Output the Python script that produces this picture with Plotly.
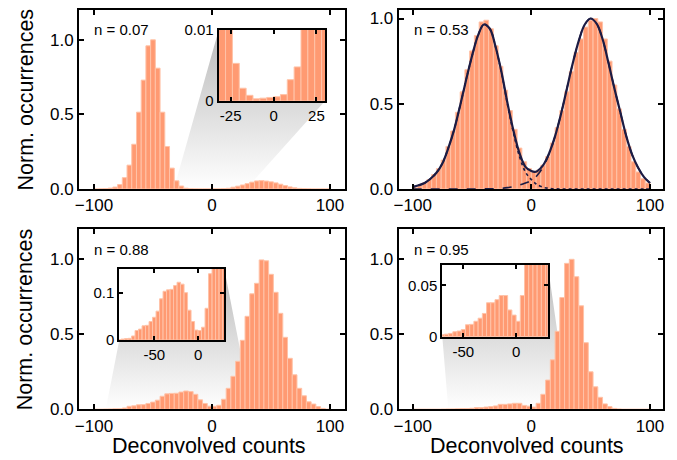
import plotly.graph_objects as go

# The page body adds an 8 px margin, so the figure is drawn 8 px smaller
# and all reference pixel positions are shifted by OFF.
OFF = 8
W, H = 677 - OFF, 460 - OFF

# ---------------- data ----------------
centers = [-98, -94, -90, -86, -82, -78, -74, -70, -66, -62, -58, -54, -50, -46, -42, -38,
           -34, -30, -26, -22, -18, -14, -10, -6, -2, 2, 6, 10, 14, 18, 22, 26, 30, 34,
           38, 42, 46, 50, 54, 58, 62, 66, 70, 74, 78, 82, 86, 90, 94, 98]

vals_n007 = [0.0, 0.001, 0.003, 0.006, 0.013, 0.03, 0.076, 0.16, 0.30, 0.515, 0.73, 0.96, 1.0,
             0.81, 0.515, 0.285, 0.14, 0.055, 0.02, 0.0053, 0.0018, 0.0008, 0.0003, 0.0004,
             0.0005, 0.0006, 0.0009, 0.003, 0.0048, 0.012, 0.019, 0.027, 0.036, 0.046, 0.054,
             0.056, 0.053, 0.048, 0.041, 0.032, 0.023, 0.014, 0.008, 0.004, 0.002, 0.001,
             0.0, 0.0, 0.0, 0.0]

vals_n053 = [0.01, 0.02, 0.035, 0.055, 0.085, 0.12, 0.17, 0.25, 0.34, 0.45, 0.57, 0.70, 0.81,
             0.90, 0.98, 0.99, 0.94, 0.84, 0.72, 0.58, 0.46, 0.35, 0.24, 0.16, 0.12, 0.10, 0.11,
             0.14, 0.19, 0.27, 0.36, 0.46, 0.57, 0.69, 0.80, 0.88, 0.95, 0.99, 1.0, 0.98, 0.88,
             0.75, 0.61, 0.47, 0.35, 0.25, 0.16, 0.10, 0.06, 0.035]

vals_n088 = [0.0, 0.0, 0.001, 0.002, 0.003, 0.0035, 0.0085, 0.02, 0.023, 0.03, 0.031, 0.039,
             0.048, 0.061, 0.087, 0.103, 0.106, 0.107, 0.115, 0.122, 0.118, 0.10, 0.063, 0.039,
             0.021, 0.02, 0.027, 0.067, 0.14, 0.22, 0.32, 0.46, 0.62, 0.77, 0.84, 0.996, 0.99,
             0.90, 0.78, 0.64, 0.48, 0.34, 0.23, 0.14, 0.09, 0.05, 0.035, 0.018, 0.006, 0.0]

vals_n095 = [0.0, 0.0, 0.0, 0.0, 0.0, 0.0, 0.001, 0.002, 0.0025, 0.0032, 0.0048, 0.0055, 0.007,
             0.0116, 0.012, 0.015, 0.018, 0.0226, 0.033, 0.033, 0.036, 0.040, 0.040, 0.026,
             0.021, 0.015, 0.040, 0.10, 0.195, 0.33, 0.52, 0.745, 0.973, 1.0, 0.884, 0.69,
             0.444, 0.25, 0.15, 0.08, 0.036, 0.018, 0.006, 0.002, 0.0, 0.0, 0.0, 0.0, 0.0, 0.0]

# fit curves for n = 0.53
fit_x = [-100, -95, -90, -85, -80, -75, -70, -65, -60, -55, -50, -45, -40, -35, -30, -25, -20,
         -15, -10, -5, 0, 3, 5, 10, 15, 20, 25, 30, 35, 40, 45, 50, 55, 60, 65, 70, 75, 80, 85,
         90, 95, 100]
fit_total = [0.012, 0.022, 0.035, 0.06, 0.095, 0.15, 0.24, 0.35, 0.49, 0.64, 0.78, 0.90, 0.965,
             0.94, 0.83, 0.68, 0.50, 0.34, 0.21, 0.13, 0.105, 0.10, 0.105, 0.14, 0.21, 0.31,
             0.44, 0.59, 0.74, 0.87, 0.965, 1.0, 0.97, 0.88, 0.74, 0.59, 0.45, 0.31, 0.20,
             0.125, 0.07, 0.035]
fit_left = [0.012, 0.022, 0.035, 0.06, 0.095, 0.15, 0.24, 0.35, 0.49, 0.64, 0.78, 0.90, 0.965,
            0.94, 0.83, 0.676, 0.492, 0.326, 0.19, 0.10, 0.055, 0.035, 0.025, 0.01, 0.004,
            0.001, 0.0, 0.0, 0.0, 0.0, 0.0, 0.0, 0.0, 0.0, 0.0, 0.0, 0.0, 0.0, 0.0, 0.0, 0.0, 0.0]
fit_right = [0.0, 0.0, 0.0, 0.0, 0.0, 0.0, 0.0, 0.0, 0.0, 0.0, 0.0, 0.0, 0.001, 0.001, 0.002,
             0.004, 0.008, 0.014, 0.023, 0.035, 0.05, 0.065, 0.08, 0.13, 0.206, 0.309, 0.44,
             0.59, 0.74, 0.87, 0.965, 1.0, 0.97, 0.88, 0.74, 0.59, 0.45, 0.31, 0.20, 0.125,
             0.07, 0.035]

labels = ["n = 0.07", "n = 0.53", "n = 0.88", "n = 0.95"]
main_xticks = [-100, 0, 100]
main_xtext = ["\u2212100", "0", "100"]
main_yticks = [0, 0.5, 1.0]
main_ytext = ["0.0", "0.5", "1.0"]

# ---------------- layout geometry (reference-screen pixels) ----------------
BAR = "#ff9a72"
BAR_EDGE = "#ffc3a8"
NAVY = "#1c1c44"

panels = [
    dict(x=(79, 345), y=(10, 189), xr=[-112.7, 112.7], yr=[0, 1.2], v=vals_n007),
    dict(x=(398.7, 662.7), y=(10, 189), xr=[-111.8, 110.7], yr=[0, 1.05], v=vals_n053),
    dict(x=(79, 345), y=(229.3, 409.3), xr=[-112.7, 112.7], yr=[0, 1.2], v=vals_n088),
    dict(x=(398.7, 662.7), y=(229.3, 409.3), xr=[-111.8, 110.7], yr=[0, 1.2], v=vals_n095),
]
insets = [
    dict(parent=0, x=(218.7, 325), y=(30, 101), xr=[-32, 30], yr=[0, 0.01],
         xt=[-25, 0, 25], xtt=["-25", "0", "25"], yt=[0, 0.01], ytt=["0", "0.01"], style="tl"),
    dict(parent=2, x=(119.3, 224.3), y=(269, 340), xr=[-90, 30], yr=[0, 0.15],
         xt=[-50, 0], xtt=["-50", "0"], yt=[0, 0.1], ytt=["0", "0.1"], style="bl"),
    dict(parent=3, x=(442.3, 547.7), y=(264.7, 336.7), xr=[-70, 30], yr=[0, 0.07],
         xt=[-50, 0], xtt=["-50", "0"], yt=[0, 0.05], ytt=["0", "0.05"], style="bl"),
]


def fx(px):
    return (px - OFF) / W


def fy(py):
    return 1 - (py - OFF) / H


def xdom(a, b):
    return [fx(a), fx(b)]


def ydom(top, bottom):
    return [fy(bottom), fy(top)]


def ax_names(i):
    return ("x" if i == 1 else f"x{i}", "y" if i == 1 else f"y{i}",
            "xaxis" if i == 1 else f"xaxis{i}", "yaxis" if i == 1 else f"yaxis{i}")


fig = go.Figure()
layout = dict(width=W, height=H, margin=dict(l=0, r=0, t=0, b=0, pad=0, autoexpand=False),
              paper_bgcolor="white", plot_bgcolor="rgba(0,0,0,0)", showlegend=False,
              barmode="overlay", font=dict(family="Liberation Sans, Arial, sans-serif",
                                           color="black"))

axis_common = dict(showline=True, linecolor="black", linewidth=2, mirror="ticks",
                   ticks="inside", tickcolor="black", showgrid=False, zeroline=False,
                   automargin=False)


def to_data_x(p, px):
    (a, b), (r0, r1) = p["x"], p["xr"]
    return r0 + (px - a) / (b - a) * (r1 - r0)


def to_data_y(p, py):
    (t, bt), (r0, r1) = p["y"], p["yr"]
    return r0 + (bt - py) / (bt - t) * (r1 - r0)


# ---- zoom cones: own hidden subplots (ids 1-3) drawn beneath the panels ----
for k, ins in enumerate(insets):
    p = panels[ins["parent"]]
    xa, ya, xk, yk = ax_names(1 + k)
    x0, x1 = ins["xr"]
    y1 = ins["yr"][1]
    L = to_data_x(p, ins["x"][0])
    R = to_data_x(p, ins["x"][1])
    T = to_data_y(p, ins["y"][0])
    B = to_data_y(p, ins["y"][1])
    if ins["style"] == "tl":
        px = [x0, x0, L, L, R, x1, x1, x0]
        py = [0, y1, T, B, B, y1, 0, 0]
    else:
        px = [x0, L, R, R, x1, x1, x0]
        py = [0, B, B, T, y1, 0, 0]
    fig.add_trace(go.Scatter(
        x=px, y=py, xaxis=xa, yaxis=ya, mode="lines", fill="toself",
        line=dict(width=0, color="rgba(0,0,0,0)"),
        fillgradient=dict(type="vertical",
                          colorscale=[[0, "rgba(255,255,255,1)"], [1, "rgb(186,186,186)"]]),
        hoverinfo="skip"))
    layout[xk] = dict(domain=xdom(*p["x"]), range=p["xr"], visible=False, anchor=ya,
                      showgrid=False, zeroline=False)
    layout[yk] = dict(domain=ydom(*p["y"]), range=p["yr"], visible=False, anchor=xa,
                      showgrid=False, zeroline=False)

# ---- main panels (ids 4-7) ----
main_ids = []
for idx, p in enumerate(panels):
    xa, ya, xk, yk = ax_names(4 + idx)
    main_ids.append((xa, ya))
    fig.add_trace(go.Bar(x=centers, y=p["v"], width=4, xaxis=xa, yaxis=ya,
                         marker=dict(color=BAR, line=dict(color=BAR_EDGE, width=1))))
    layout[xk] = dict(axis_common, domain=xdom(*p["x"]), range=p["xr"], anchor=ya,
                      tickvals=main_xticks, ticktext=main_xtext, ticklen=5, tickwidth=2,
                      tickfont=dict(size=17))
    layout[yk] = dict(axis_common, domain=ydom(*p["y"]), range=p["yr"], anchor=xa,
                      tickvals=main_yticks, ticktext=main_ytext, ticklen=5, tickwidth=2,
                      tickfont=dict(size=17))

# fit curves on the n = 0.53 panel
fx2, fy2 = main_ids[1]
fig.add_trace(go.Scatter(x=fit_x, y=fit_left, xaxis=fx2, yaxis=fy2, mode="lines",
                         line=dict(color=NAVY, width=1.6, dash="dot", shape="spline")))
fig.add_trace(go.Scatter(x=fit_x, y=fit_right, xaxis=fx2, yaxis=fy2, mode="lines",
                         line=dict(color=NAVY, width=1.6, dash="dash", shape="spline")))
fig.add_trace(go.Scatter(x=fit_x, y=fit_total, xaxis=fx2, yaxis=fy2, mode="lines",
                         line=dict(color=NAVY, width=2.2, shape="spline")))

# ---- insets (ids 8-10) ----
for k, ins in enumerate(insets):
    xa, ya, xk, yk = ax_names(8 + k)
    p = panels[ins["parent"]]
    fig.add_trace(go.Bar(x=centers, y=p["v"], width=4, xaxis=xa, yaxis=ya,
                         marker=dict(color=BAR, line=dict(color=BAR_EDGE, width=1))))
    layout[xk] = dict(axis_common, domain=xdom(*ins["x"]), range=ins["xr"],
                      anchor=ya, tickvals=ins["xt"], ticktext=ins["xtt"],
                      ticklen=4, tickwidth=2, tickfont=dict(size=15))
    layout[yk] = dict(axis_common, domain=ydom(*ins["y"]), range=ins["yr"],
                      anchor=xa, tickvals=ins["yt"], ticktext=ins["ytt"],
                      ticklen=4, tickwidth=2, tickfont=dict(size=15))

# ---- text ----
ann = []
for idx, (xa, ya) in enumerate(main_ids):
    ann.append(dict(text=labels[idx], xref=f"{xa} domain", yref=f"{ya} domain",
                    x=0.05, y=0.89, xanchor="left", yanchor="middle", showarrow=False,
                    font=dict(size=15)))
for (top, bot) in [(10, 189), (229.3, 409.3)]:
    ann.append(dict(text="Norm. occurrences", xref="paper", yref="paper",
                    x=fx(25), y=fy((top + bot) / 2), textangle=-90,
                    xanchor="center", yanchor="middle", showarrow=False,
                    font=dict(size=21.5)))
for cx in [209, 527]:
    ann.append(dict(text="Deconvolved counts", xref="paper", yref="paper",
                    x=fx(cx), y=fy(446), xanchor="center", yanchor="middle",
                    showarrow=False, font=dict(size=21.5)))
layout["annotations"] = ann

fig.update_layout(**layout)
fig.write_html("out.html")
